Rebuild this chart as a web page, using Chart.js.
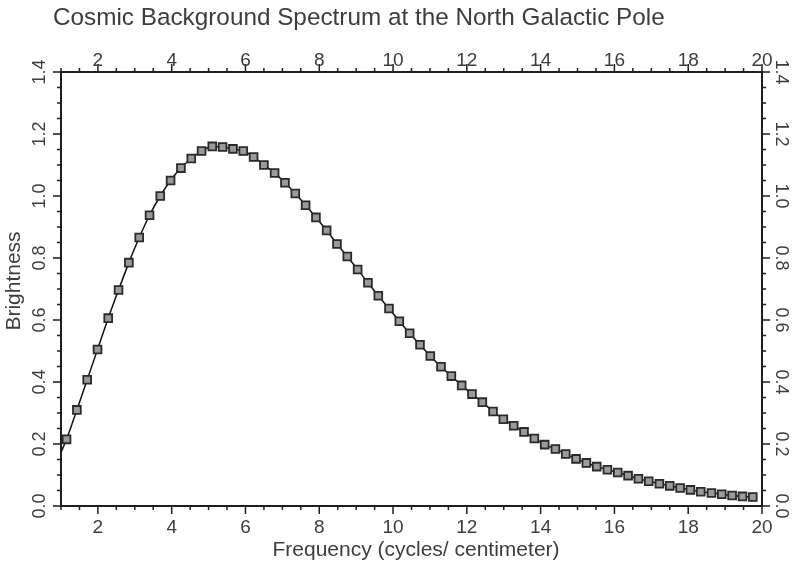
<!DOCTYPE html>
<html>
<head>
<meta charset="utf-8">
<script src="https://cdn.jsdelivr.net/npm/chart.js@4.4.0/dist/chart.umd.min.js"></script>
<style>
  html, body { margin: 0; padding: 0; background: #fff; }
</style>
</head>
<body>
<canvas id="spectrum" width="795" height="565"></canvas>
<script>
// frequency of each measured point (cycles/centimeter)
const freq = [1.15, 1.43, 1.71, 1.99, 2.28, 2.56, 2.84, 3.12, 3.40, 3.69,
  3.97, 4.25, 4.53, 4.81, 5.10, 5.38, 5.66, 5.94, 6.22, 6.50,
  6.79, 7.07, 7.35, 7.63, 7.91, 8.20, 8.48, 8.76, 9.04, 9.32,
  9.60, 9.89, 10.17, 10.45, 10.73, 11.01, 11.30, 11.58, 11.86, 12.14,
  12.42, 12.71, 12.99, 13.27, 13.55, 13.83, 14.11, 14.40, 14.68, 14.96,
  15.24, 15.52, 15.81, 16.09, 16.37, 16.65, 16.93, 17.22, 17.50, 17.78,
  18.06, 18.34, 18.63, 18.91, 19.19, 19.47, 19.75];

// brightness
const brightness = [0.215, 0.310, 0.407, 0.505, 0.606, 0.697, 0.785, 0.866, 0.938, 1.000,
  1.050, 1.090, 1.121, 1.145, 1.160, 1.158, 1.152, 1.145, 1.126, 1.100,
  1.074, 1.043, 1.008, 0.970, 0.931, 0.889, 0.845, 0.805, 0.763, 0.720,
  0.678, 0.637, 0.596, 0.557, 0.520, 0.484, 0.449, 0.419, 0.389, 0.361,
  0.335, 0.305, 0.280, 0.259, 0.239, 0.218, 0.198, 0.184, 0.168, 0.152,
  0.139, 0.127, 0.117, 0.108, 0.098, 0.088, 0.080, 0.072, 0.065, 0.058,
  0.052, 0.046, 0.042, 0.038, 0.034, 0.031, 0.029];

// where the fitted curve enters at the left axis
const curveStartFreq = 1.0;
const curveStartBrightness = 0.173;

const xTickLabels = [2, 4, 6, 8, 10, 12, 14, 16, 18, 20];
const yTickLabels = ['0.0', '0.2', '0.4', '0.6', '0.8', '1.0', '1.2', '1.4'];

const points = freq.map((f, i) => ({ x: f, y: brightness[i] }));
const curve = [{ x: curveStartFreq, y: curveStartBrightness }].concat(points);

const textColor = '#3d3d3d';
const axisColor = '#1e1e1e';
const fontFamily = '"Liberation Sans", Arial, Helvetica, sans-serif';

// frame, ticks (major + minor) on four sides, rotated y labels, titles
const framePlugin = {
  id: 'frame',
  afterDraw(chart) {
    const ctx = chart.ctx;
    const xs = chart.scales.x;
    const ys = chart.scales.y;
    const { left, right, top, bottom } = chart.chartArea;

    ctx.save();
    ctx.strokeStyle = axisColor;
    ctx.lineWidth = 2;
    ctx.strokeRect(left, top, right - left, bottom - top);

    ctx.lineWidth = 1.5;
    ctx.beginPath();
    // x ticks every 0.5, long ones at whole even numbers
    for (let v = 1; v <= 20.001; v += 0.5) {
      const px = xs.getPixelForValue(v);
      const len = (Math.abs(v % 2) < 0.001) ? 8 : 4;
      ctx.moveTo(px, bottom); ctx.lineTo(px, bottom + len);
      ctx.moveTo(px, top); ctx.lineTo(px, top - len);
    }
    // y ticks every 0.05, long ones at labelled values
    for (let k = 0; k <= 28; k++) {
      const v = k * 0.05;
      const py = ys.getPixelForValue(v);
      const len = (k % 4 === 0) ? 8 : 4;
      ctx.moveTo(left, py); ctx.lineTo(left - len, py);
      ctx.moveTo(right, py); ctx.lineTo(right + len, py);
    }
    ctx.stroke();

    ctx.fillStyle = textColor;
    ctx.font = '19px ' + fontFamily;
    ctx.textAlign = 'center';
    ctx.textBaseline = 'middle';
    xTickLabels.forEach(v => {
      const px = xs.getPixelForValue(v);
      ctx.fillText(String(v), px, 528);
      ctx.fillText(String(v), px, 61);
    });

    ctx.font = '18px ' + fontFamily;
    yTickLabels.forEach(lbl => {
      const py = ys.getPixelForValue(parseFloat(lbl));
      ctx.save();
      ctx.translate(40, py);
      ctx.rotate(-Math.PI / 2);
      ctx.fillText(lbl, 0, 0);
      ctx.restore();
      ctx.save();
      ctx.translate(781, py);
      ctx.rotate(Math.PI / 2);
      ctx.fillText(lbl, 0, 0);
      ctx.restore();
    });

    // axis titles
    ctx.font = '21px ' + fontFamily;
    ctx.fillText('Frequency (cycles/ centimeter)', 416, 550);
    ctx.save();
    ctx.translate(14, 281);
    ctx.rotate(-Math.PI / 2);
    ctx.fillText('Brightness', 0, 0);
    ctx.restore();

    // chart title
    ctx.font = '24.3px ' + fontFamily;
    ctx.textAlign = 'left';
    ctx.fillText('Cosmic Background Spectrum at the North Galactic Pole', 53, 18);
    ctx.restore();
  }
};

const ctx = document.getElementById('spectrum').getContext('2d');
new Chart(ctx, {
  type: 'scatter',
  data: {
    datasets: [{
      label: 'fit',
      data: curve,
      showLine: true,
      borderColor: '#111',
      borderWidth: 1.5,
      pointRadius: 0,
      cubicInterpolationMode: 'monotone',
      order: 2
    }, {
      label: 'measured',
      data: points,
      showLine: false,
      pointStyle: 'rect',
      pointRadius: 5.5,
      borderWidth: 1.8,
      borderColor: '#2a2a2a',
      backgroundColor: '#9a9a9a',
      order: 1
    }]
  },
  options: {
    responsive: false,
    animation: false,
    layout: { padding: { left: 61, right: 33, top: 72, bottom: 59 } },
    scales: {
      x: { type: 'linear', display: false, min: 1, max: 20 },
      y: { type: 'linear', display: false, min: 0, max: 1.4 }
    },
    plugins: {
      legend: { display: false },
      tooltip: { enabled: false }
    }
  },
  plugins: [framePlugin]
});
</script>
</body>
</html>
